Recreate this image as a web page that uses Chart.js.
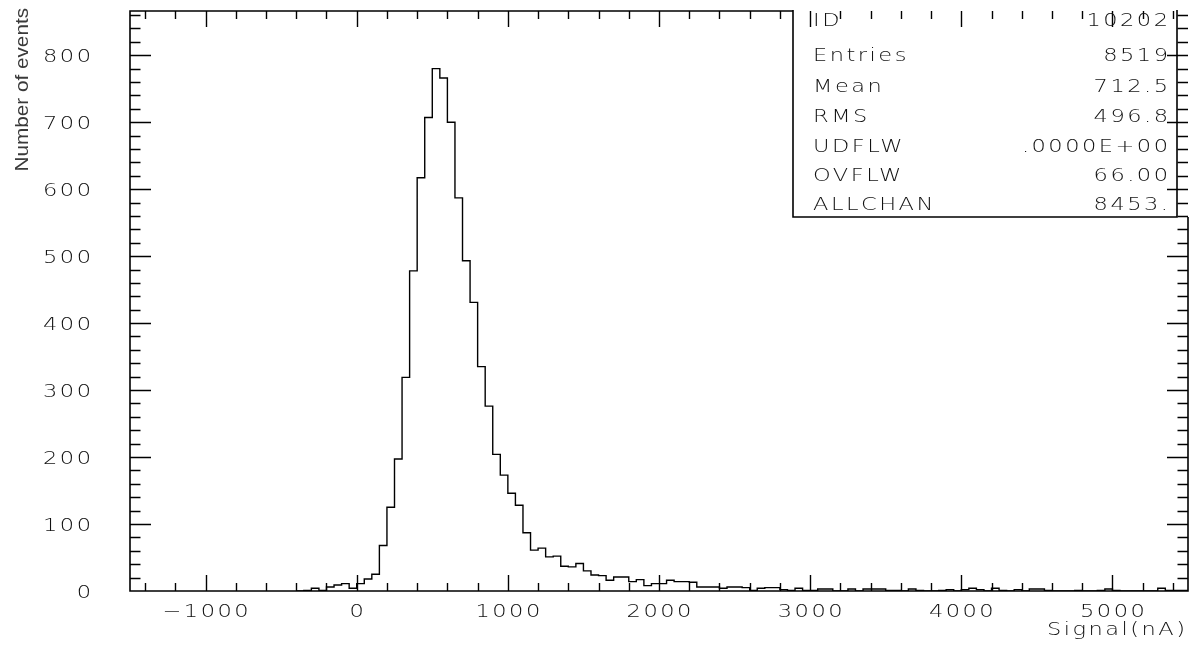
<!DOCTYPE html>
<html>
<head>
<meta charset="utf-8">
<script src="https://cdn.jsdelivr.net/npm/chart.js@4.4.0/dist/chart.umd.min.js"></script>
<style>
html,body{margin:0;padding:0;background:#fff;}
#wrap{width:1191px;height:656px;position:relative;}
canvas{display:block;}
</style>
</head>
<body>
<div id="wrap"><canvas id="c" width="1191" height="656"></canvas></div>
<script>
// ---- data (bins of 50 nA starting at -400) ----
const binLowEdge = -400;
const binWidth = 50;
const counts = [
  0, 1, 4, 1, 6, 9, 11, 4,            // -400 .. -50
  11, 18, 25, 68, 125, 197, 319,      // 0 .. 300
  478, 617, 707, 780, 766, 700, 587, 493, 431,   // 350 .. 750
  335, 276, 204, 173, 146, 128, 87, 61, 64, 51, 52, 37, 36, 41,  // 800 .. 1450
  30, 24, 23, 16, 21, 21, 14, 17, 8, 11, 11, 16, 14, 14, 13,     // 1500 .. 2200
  6, 6, 6, 4, 6, 6, 5, 1, 4, 5, 5, 2, 1, 4, 1, 1, 3, 3, 0, 0, 3, 0, 3, 3, 3, // 2250 .. 3450
  1, 1, 0, 3, 1, 0, 0, 1, 2, 0, 2, 4, 2, 0, 4, 1, 0, 2, 0, 3, 3, 1, 0, 0, 0, 1, 0, 0, 1, 3, 1, 0, 0, 0, 0, 0, 4, 1, 1, 1 // 3500 .. 5450
];
const xRange = [-1500, 5500];
const yRange = [0, 866];
const xMajorTicks = [-1000, 0, 1000, 2000, 3000, 4000, 5000];
const xTickLabels = ['\u22121000', '0', '1000', '2000', '3000', '4000', '5000'];
const yMajorTicks = [0, 100, 200, 300, 400, 500, 600, 700, 800];
const yTickLabels = ['0', '100', '200', '300', '400', '500', '600', '700', '800'];
const xMinorStep = 200;
const yMinorStep = 20;
const xTitle = 'Signal(nA)';
const yTitle = 'Number of events';
const statLabels = ['ID', 'Entries', 'Mean', 'RMS', 'UDFLW', 'OVFLW', 'ALLCHAN'];
const statValues = ['10202', '8519', '712.5', '496.8', '.0000E+00', '66.00', '8453.'];

// ---- build step points from bins ----
const points = counts.map((c, i) => ({x: binLowEdge + i * binWidth, y: c}));
points.push({x: binLowEdge + counts.length * binWidth, y: counts[counts.length - 1]});

const FONT = '"DejaVu Sans", "Liberation Sans", sans-serif';

function drawText(ctx, s, x, y, align, size, sx, ls) {
  ctx.save();
  ctx.font = '200 ' + size + 'px ' + FONT;
  ctx.letterSpacing = (ls / sx) + 'px';
  ctx.textBaseline = 'alphabetic';
  ctx.fillStyle = '#111';
  let ox = x;
  if (align === 'right') ox = x + ls;
  if (align === 'center') ox = x + ls / 2;
  ctx.translate(ox, y);
  ctx.scale(sx, 1);
  ctx.textAlign = align;
  ctx.fillText(s, 0, 0);
  ctx.restore();
}

const hbookPlugin = {
  id: 'hbook',
  afterDraw(chart) {
    const ctx = chart.ctx;
    const xs = chart.scales.x, ys = chart.scales.y;
    const L = xs.getPixelForValue(xRange[0]), R = xs.getPixelForValue(xRange[1]);
    const T = ys.getPixelForValue(yRange[1]), B = ys.getPixelForValue(yRange[0]);
    ctx.save();
    ctx.strokeStyle = '#000';
    ctx.lineWidth = 1.6;
    ctx.beginPath();
    ctx.rect(L, T, R - L, B - T);
    ctx.stroke();

    // stats box (covers the frame in its area)
    const bx0 = 793, bx1 = 1177, by1 = 217;
    ctx.fillStyle = '#fff';
    ctx.fillRect(bx0, 0, 1191 - bx0, by1);
    ctx.lineWidth = 1.6;
    ctx.beginPath();
    ctx.moveTo(bx0, T - 1); ctx.lineTo(bx0, by1); ctx.lineTo(bx1, by1); ctx.lineTo(bx1, T - 1);
    ctx.stroke();

    // ticks
    ctx.lineWidth = 1.4;
    ctx.beginPath();
    for (let v = -1400; v <= 5400; v += xMinorStep) {
      const px = Math.round(xs.getPixelForValue(v)) + 0.5;
      const len = (v % 1000 === 0) ? 16 : 8;
      ctx.moveTo(px, B); ctx.lineTo(px, B - len);
      ctx.moveTo(px, T); ctx.lineTo(px, T + len);
    }
    for (let v = yMinorStep; v < yRange[1]; v += yMinorStep) {
      const py = Math.round(ys.getPixelForValue(v)) + 0.5;
      const len = (v % 100 === 0) ? 21 : 10.5;
      ctx.moveTo(L, py); ctx.lineTo(L + len, py);
      ctx.moveTo(R, py); ctx.lineTo(R - len, py);
    }
    ctx.stroke();
    ctx.restore();

    // tick labels
    xMajorTicks.forEach((v, i) => {
      drawText(ctx, xTickLabels[i], xs.getPixelForValue(v), 617, 'center', 18, 1.25, 2.5);
    });
    yMajorTicks.forEach((v, i) => {
      drawText(ctx, yTickLabels[i], 91, ys.getPixelForValue(v) + 6.5, 'right', 18, 1.25, 2.5);
    });
    // axis titles
    drawText(ctx, xTitle, 1185, 635, 'right', 18, 1.25, 2.5);
    ctx.save();
    ctx.translate(28, 8);
    ctx.rotate(-Math.PI / 2);
    ctx.scale(1.15, 1);
    ctx.font = '18px "Liberation Sans", "DejaVu Sans", sans-serif';
    ctx.fillStyle = '#3a3a3a';
    ctx.textAlign = 'right';
    ctx.fillText(yTitle, 0, 0);
    ctx.restore();

    // stats text
    const rowY = [26, 61, 91.5, 122, 151.5, 181, 210];
    statLabels.forEach((s, i) => {
      drawText(ctx, s, 813, rowY[i], 'left', 18, 1.25, 2.5);
      drawText(ctx, statValues[i], 1168, rowY[i], 'right', 18, 1.25, 2.5);
    });
  }
};

new Chart(document.getElementById('c'), {
  type: 'line',
  data: {
    datasets: [{
      data: points,
      stepped: 'before',
      borderColor: '#000',
      borderWidth: 1.4,
      pointRadius: 0,
      fill: false,
      tension: 0
    }]
  },
  options: {
    responsive: false,
    animation: false,
    events: [],
    layout: {padding: {left: 130, right: 3, top: 11, bottom: 65}},
    scales: {
      x: {type: 'linear', min: xRange[0], max: xRange[1], display: false},
      y: {type: 'linear', min: yRange[0], max: yRange[1], display: false}
    },
    plugins: {legend: {display: false}, tooltip: {enabled: false}}
  },
  plugins: [hbookPlugin]
});
</script>
</body>
</html>
